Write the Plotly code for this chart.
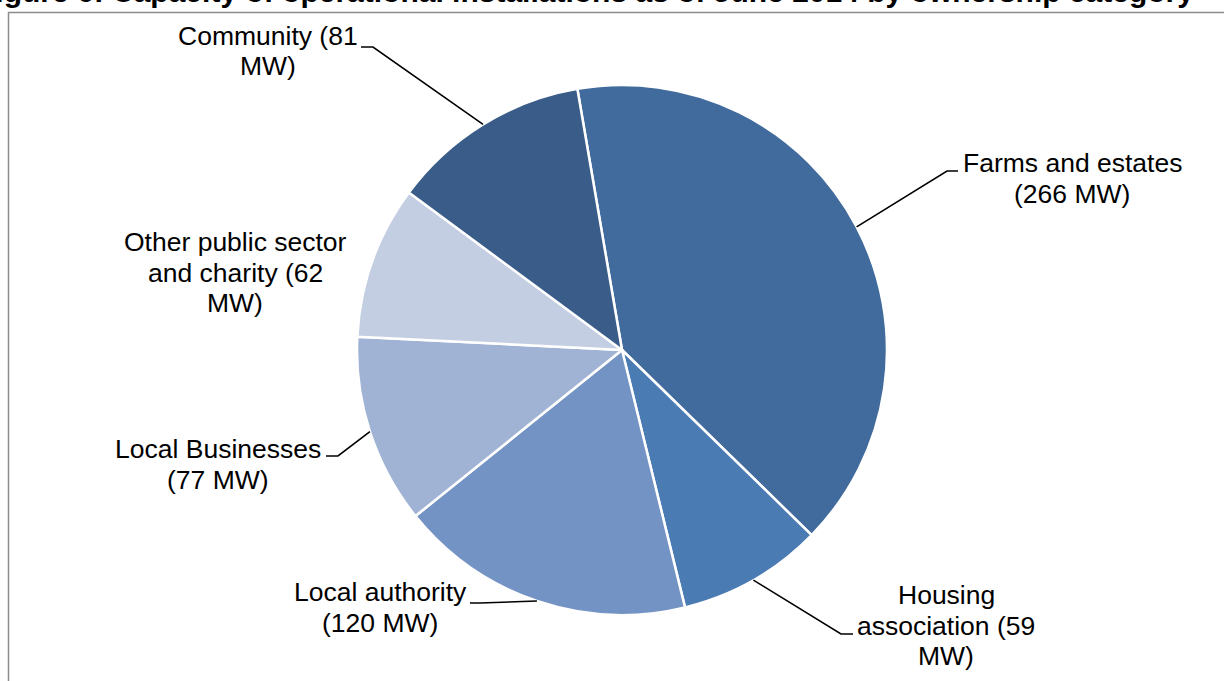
import math
import plotly.graph_objects as go

# Installed capacity by ownership category (MW)
categories = ["Farms and estates", "Housing association", "Local authority",
              "Local Businesses", "Other public sector and charity", "Community"]
capacity_mw = [266, 59, 120, 77, 62, 81]
label_lines = [
    ["Farms and estates", "(266 MW)"],
    ["Housing", "association (59", "MW)"],
    ["Local authority", "(120 MW)"],
    ["Local Businesses", "(77 MW)"],
    ["Other public sector", "and charity (62", "MW)"],
    ["Community (81", "MW)"],
]
colors = ["#416B9D", "#4A7BB3", "#7493C5", "#A1B3D5", "#C3CEE3", "#3A5C88"]

title_text = ("Figure 6: Capacity of operational installations as of June 2014 "
              "by ownership category")

W, H = 1224, 681
CX, CY, R = 622, 350, 265
ROTATION = -9.7  # start angle of first slice, clockwise from 12 o'clock

# Label layout in pixels: (centre x, first line centre y, elbow, line end)
label_layout = [
    dict(x=1072, y=163.5, elbow=(947, 171), end=(958, 171)),
    dict(x=946, y=595, elbow=(841, 634), end=(853, 634)),
    dict(x=380, y=592, elbow=(480, 603), end=(470, 603)),
    dict(x=218, y=449, elbow=(338, 456), end=(326, 456)),
    dict(x=235, y=242, elbow=None, end=None),
    dict(x=268, y=36, elbow=(373, 47), end=(361, 47)),
]
LINE_GAP = 30.5
FONT = "Liberation Sans, Arial, sans-serif"


def px(x):
    return x / W


def py(y):
    return 1 - y / H


fig = go.Figure(go.Pie(
    labels=categories,
    values=capacity_mw,
    sort=False,
    direction="clockwise",
    rotation=ROTATION,
    marker=dict(colors=colors, line=dict(color="white", width=2.5)),
    textinfo="none",
    hoverinfo="label+value",
    showlegend=False,
    domain=dict(x=[px(CX - R), px(CX + R)], y=[py(CY + R), py(CY - R)]),
))

annotations = []
shapes = []

# outer frame
shapes.append(dict(type="rect", xref="paper", yref="paper",
                   x0=px(8.5), x1=px(W + 20), y0=py(H + 20), y1=py(12.5),
                   line=dict(color="#8C8C8C", width=1.5), fillcolor="rgba(0,0,0,0)"))

total = sum(capacity_mw)
start = ROTATION
for val, lines, lay in zip(capacity_mw, label_lines, label_layout):
    span = val / total * 360
    mid = math.radians(start + span / 2)
    start += span
    for i, line in enumerate(lines):
        annotations.append(dict(
            x=px(lay["x"]), y=py(lay["y"] + i * LINE_GAP), xref="paper", yref="paper",
            text=line, showarrow=False, xanchor="center", yanchor="middle",
            font=dict(family=FONT, size=26.5, color="black")))
    if lay["end"] is not None:
        ex, ey = CX + R * math.sin(mid), CY - R * math.cos(mid)
        pts = [(ex, ey), lay["elbow"], lay["end"]]
        path = "M " + " L ".join(f"{px(a)},{py(b)}" for a, b in pts)
        shapes.append(dict(type="path", xref="paper", yref="paper", path=path,
                           line=dict(color="black", width=1.6)))

# title (runs off the top of the page)
annotations.append(dict(
    x=px(585), y=py(-8.5), xref="paper", yref="paper", text=f"<b>{title_text}</b>",
    showarrow=False, xanchor="center", yanchor="middle",
    font=dict(family=FONT, size=30, color="black")))

fig.update_layout(
    width=W, height=H,
    margin=dict(l=0, r=0, t=0, b=0),
    paper_bgcolor="white", plot_bgcolor="white",
    annotations=annotations, shapes=shapes,
)

fig.write_html("out.html")
